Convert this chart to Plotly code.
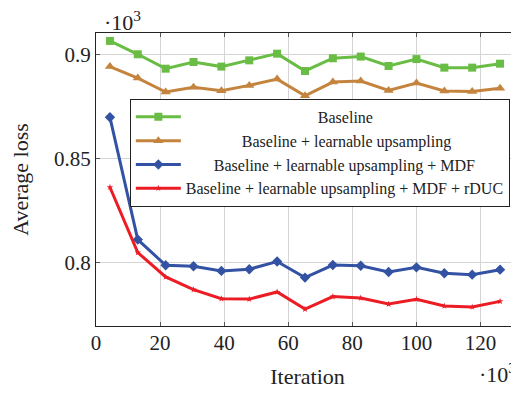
import plotly.graph_objects as go

iterations = [4.35, 13.04, 21.74, 30.43, 39.13, 47.83, 56.52, 65.22, 73.91, 82.61, 91.30, 100.0, 108.70, 117.39, 126.09]

baseline = [0.9064, 0.9000, 0.8931, 0.8963, 0.8941, 0.8971, 0.9003, 0.8920, 0.8981, 0.8989, 0.8944, 0.8977, 0.8936, 0.8936, 0.8955]
learn_up = [0.8941, 0.8886, 0.8819, 0.8842, 0.8825, 0.8851, 0.8881, 0.8801, 0.8867, 0.8872, 0.8827, 0.8862, 0.8824, 0.8822, 0.8837]
learn_up_mdf = [0.8698, 0.8112, 0.7989, 0.7984, 0.7962, 0.7970, 0.8007, 0.7930, 0.7990, 0.7987, 0.7957, 0.7979, 0.7951, 0.7944, 0.7968]
learn_up_mdf_rduc = [0.8363, 0.8050, 0.7933, 0.7872, 0.7829, 0.7827, 0.7861, 0.7779, 0.7839, 0.7832, 0.7803, 0.7826, 0.7794, 0.7789, 0.7816]

series_names = [
    "Baseline",
    "Baseline + learnable upsampling",
    "Baseline + learnable upsampling + MDF",
    "Baseline + learnable upsampling + MDF + rDUC",
]

x_ticks = [0, 20, 40, 60, 80, 100, 120]
y_ticks = [0.8, 0.85, 0.9]
y_ticktext = ["0.8", "0.85", "0.9"]

FONT = "Liberation Serif"

styles = [
    dict(color="#69bd45", symbol="square", size=8),
    dict(color="#c4843d", symbol="triangle-up", size=9),
    dict(color="#3352a3", symbol="diamond", size=8),
    dict(color="#ec1c24", symbol="star", size=5),
]

# centre legend labels (pgfplots legend text is centred)
NB = "\u00a0"
lead_pads = [33, 14, 7, 0]
legend_labels = [NB * p + n for p, n in zip(lead_pads, series_names)]

fig = go.Figure()
for label, ys, st in zip(legend_labels, [baseline, learn_up, learn_up_mdf, learn_up_mdf_rduc], styles):
    fig.add_trace(go.Scatter(
        x=iterations, y=ys, name=label, mode="lines+markers",
        line=dict(color=st["color"], width=3),
        marker=dict(color=st["color"], symbol=st["symbol"], size=st["size"], line=dict(width=0)),
    ))

axis_common = dict(
    showgrid=True, gridcolor="#d4d4d4", gridwidth=1,
    showline=True, linecolor="#222222", linewidth=1.2, mirror="ticks",
    ticks="inside", ticklen=4, tickcolor="#555555", tickwidth=1,
    zeroline=False, automargin=False,
    tickfont=dict(family=FONT, size=21, color="#222222"),
    title_font=dict(family=FONT, size=22, color="#222222"),
)

fig.update_xaxes(range=[0, 132], tickvals=x_ticks, title_text="Iteration",
                 title_standoff=14, ticklabelstandoff=-2, **axis_common)
fig.update_yaxes(range=[0.7698, 0.9102], tickvals=y_ticks, ticktext=y_ticktext,
                 title_text="Average loss", title_standoff=24, ticklabelstandoff=0,
                 **axis_common)

# page body has an 8px default margin; figure sized to fill the 519x393 window
fig.update_layout(
    width=511, height=385,
    margin=dict(l=88, r=0, t=25, b=67),
    paper_bgcolor="white", plot_bgcolor="white",
    font=dict(family=FONT, color="#222222"),
    showlegend=True,
    legend=dict(
        x=0.08, y=0.775, xanchor="left", yanchor="top",
        bgcolor="white", bordercolor="#222222", borderwidth=1,
        font=dict(family=FONT, size=16, color="#222222"),
        tracegroupgap=0, itemwidth=45,
    ),
    annotations=[
        dict(text="·10<sup>3</sup>", xref="paper", yref="paper", x=0.0, y=1.0,
             xanchor="left", yanchor="bottom", yshift=-4, xshift=6, showarrow=False,
             font=dict(family=FONT, size=22, color="#222222")),
        dict(text="·10<sup>3</sup>", xref="paper", yref="paper", x=1.0, y=0.0,
             xanchor="right", yanchor="top", yshift=-31, xshift=-1, showarrow=False,
             font=dict(family=FONT, size=22, color="#222222")),
    ],
)

fig.write_html("out.html")
